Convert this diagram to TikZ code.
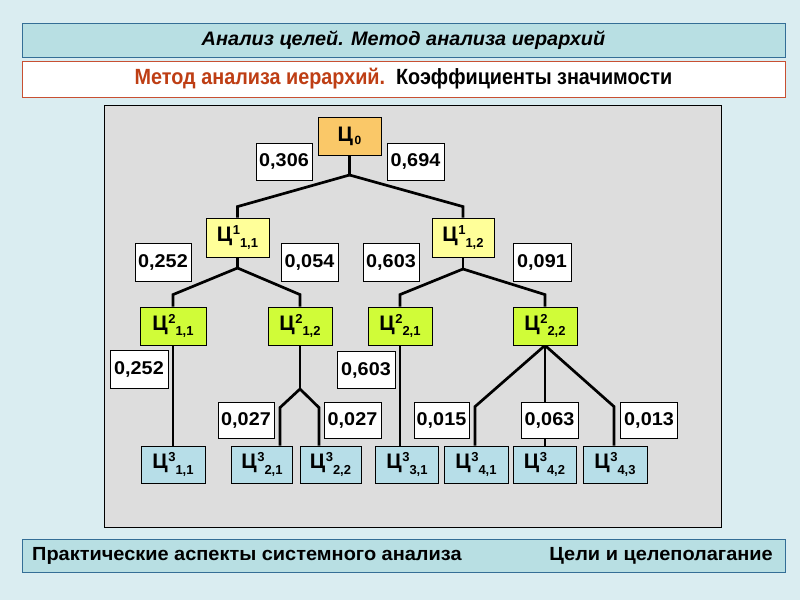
\documentclass[tikz,border=0pt]{standalone}
\usepackage{fontspec}
\setmainfont{Liberation Sans}
\newfontfamily\titlefont{Liberation Sans}[FakeStretch=1.02]
\newfontfamily\subfont{Liberation Sans}[FakeStretch=0.9]
\newfontfamily\footfont{Liberation Sans}[FakeStretch=1.05]
\newfontfamily\lblfont{Liberation Sans}[FakeStretch=1.07]
\definecolor{bgc}{RGB}{218,237,241}
\definecolor{barc}{RGB}{184,223,227}
\definecolor{barline}{RGB}{52,110,150}
\definecolor{redline}{RGB}{200,80,50}
\definecolor{redtxt}{RGB}{190,62,20}
\definecolor{panelc}{RGB}{221,221,221}
\definecolor{c0c}{RGB}{250,200,104}
\definecolor{c1c}{RGB}{255,255,153}
\definecolor{c2c}{RGB}{208,252,56}
\definecolor{c3c}{RGB}{183,222,232}
\newcommand\Cij[2]{Ц\kern0.5pt\raisebox{0.34em}{\fontsize{13}{13}\selectfont #1}\raisebox{-0.26em}{\fontsize{13}{13}\selectfont #2}}
\pgfdeclarelayer{back}
\pgfdeclarelayer{lines}
\pgfsetlayers{back,lines,main}
\tikzset{
  bar/.style={draw=barline, fill=barc, line width=0.8pt, minimum width=763pt, inner sep=0pt},
  lbl/.style={draw, fill=white, line width=0.8pt, inner sep=0pt, minimum height=37pt, font=\lblfont\bfseries\fontsize{18.5}{18.5}\selectfont},
  cbox/.style={draw, line width=0.8pt, inner sep=0pt, minimum height=38pt, font=\bfseries\fontsize{21}{21}\selectfont},
  conn/.style={line width=2.7pt, line join=miter},
}
\begin{document}
\begin{tikzpicture}[x=1pt,y=-1pt]
\begin{pgfonlayer}{back}
\fill[bgc] (0,0) rectangle (800,600);
\node[bar, minimum height=34pt, font=\titlefont\bfseries\itshape\fontsize{19.5}{19.5}\selectfont] (title) at (403.5,40) {Анализ целей. Метод анализа иерархий};
\node[bar, draw=redline, fill=white, minimum height=36pt, font=\subfont\bfseries\fontsize{22}{22}\selectfont] (sub) at (403.5,79) {\textcolor{redtxt}{Метод анализа иерархий.}\ \ Коэффициенты\ значимости};
\node[draw, fill=panelc, line width=0.8pt, minimum width=617pt, minimum height=422pt, inner sep=0pt] (panel) at (412.5,316) {};
\node[bar, minimum height=33pt] (foot) at (403.5,555.5) {};
\node[anchor=west, inner sep=0pt, font=\footfont\bfseries\fontsize{19}{19}\selectfont] (footl) at (32,556) {Практические\ аспекты\ системного\ анализа};
\node[anchor=east, inner sep=0pt, font=\footfont\bfseries\fontsize{19}{19}\selectfont] (footr) at (773,556) {Цели и целеполагание};
\end{pgfonlayer}
\useasboundingbox (0,0) rectangle (800,600);
% level 0
\node[cbox, fill=c0c, minimum width=63pt] (c0) at (349.5,136) {Ц\kern1.5pt\raisebox{-0.15em}{\fontsize{12}{12}\selectfont 0}};
\node[lbl, minimum width=56pt] (l0306) at (284,161.5) {0,306};
\node[lbl, minimum width=57pt] (l0694) at (415.5,161.5) {0,694};
% level 1
\node[cbox, fill=c1c, minimum width=63pt, minimum height=39pt] (c11) at (237.5,237.5) {\Cij{1}{1,1}};
\node[cbox, fill=c1c, minimum width=62pt, minimum height=39pt] (c12) at (463,237.5) {\Cij{1}{1,2}};
\node[lbl, minimum width=56pt, minimum height=38pt] (l0252a) at (163,262) {0,252};
\node[lbl, minimum width=57pt, minimum height=38pt] (l0054) at (309.5,262) {0,054};
\node[lbl, minimum width=56pt, minimum height=38pt] (l0603a) at (391,262) {0,603};
\node[lbl, minimum width=58pt, minimum height=38pt] (l0091) at (542,262) {0,091};
% level 2
\node[cbox, fill=c2c, minimum width=66pt] (c211) at (173,326) {\Cij{2}{1,1}};
\node[cbox, fill=c2c, minimum width=64pt] (c212) at (300,326) {\Cij{2}{1,2}};
\node[cbox, fill=c2c, minimum width=64pt] (c221) at (400,326) {\Cij{2}{2,1}};
\node[cbox, fill=c2c, minimum width=64pt] (c222) at (545,326) {\Cij{2}{2,2}};
\node[lbl, minimum width=58pt, minimum height=38pt] (l0252b) at (139,369) {0,252};
\node[lbl, minimum width=58pt] (l0603b) at (366,370) {0,603};
% level 3 labels
\node[lbl, minimum width=56pt, minimum height=36pt] (l0027a) at (246,420) {0,027};
\node[lbl, minimum width=57pt, minimum height=36pt] (l0027b) at (352.5,420) {0,027};
\node[lbl, minimum width=55pt, minimum height=36pt] (l0015) at (441.5,420) {0,015};
\node[lbl, minimum width=57pt, minimum height=36pt] (l0063) at (549.5,420) {0,063};
\node[lbl, minimum width=57pt, minimum height=36pt] (l0013) at (649,420) {0,013};
% level 3
\node[cbox, fill=c3c, minimum width=64pt, minimum height=37pt] (c311) at (173,464.5) {\Cij{3}{1,1}};
\node[cbox, fill=c3c, minimum width=61pt, minimum height=37pt] (c321) at (262,464.5) {\Cij{3}{2,1}};
\node[cbox, fill=c3c, minimum width=61pt, minimum height=37pt] (c322) at (330.5,464.5) {\Cij{3}{2,2}};
\node[cbox, fill=c3c, minimum width=63pt, minimum height=37pt] (c331) at (407,464.5) {\Cij{3}{3,1}};
\node[cbox, fill=c3c, minimum width=64pt, minimum height=37pt] (c341) at (476,464.5) {\Cij{3}{4,1}};
\node[cbox, fill=c3c, minimum width=63pt, minimum height=37pt] (c342) at (544.5,464.5) {\Cij{3}{4,2}};
\node[cbox, fill=c3c, minimum width=64pt, minimum height=37pt] (c343) at (615,464.5) {\Cij{3}{4,3}};
% connectors
\coordinate (j0) at (349.5,175);
\coordinate (j11) at (237.5,268);
\coordinate (j12) at (463,269);
\coordinate (j212) at (300,389);
\begin{pgfonlayer}{lines}
\draw[conn] (c0.south) -- (j0);
\draw[conn] (j0) -- ([yshift=11pt]c11.north) -- (c11.north);
\draw[conn] (j0) -- ([yshift=11pt]c12.north) -- (c12.north);
\draw[conn] (c11.south) -- (j11);
\draw[conn] (j11) -- ([yshift=12pt]c211.north) -- (c211.north);
\draw[conn] (j11) -- ([yshift=12pt]c212.north) -- (c212.north);
\draw[conn] (c12.south) -- (j12);
\draw[conn] (j12) -- ([yshift=12pt]c221.north) -- (c221.north);
\draw[conn] (j12) -- ([yshift=12pt]c222.north) -- (c222.north);
\draw[conn] (c211.south) -- (c311.north);
\draw[conn] (c212.south) -- (j212);
\draw[conn] (j212) -- ([xshift=18pt,yshift=38pt]c321.north) -- ([xshift=18pt]c321.north);
\draw[conn] (j212) -- ([xshift=-11.5pt,yshift=38pt]c322.north) -- ([xshift=-11.5pt]c322.north);
\draw[conn] (c221.south) -- (c221.south |- c331.north);
\draw[conn] (c222.south) -- ([xshift=-1pt,yshift=39pt]c341.north) -- ([xshift=-1pt]c341.north);
\draw[conn] (c222.south) -- (c222.south |- c342.north);
\draw[conn] (c222.south) -- ([xshift=-1pt,yshift=39pt]c343.north) -- ([xshift=-1pt]c343.north);
\end{pgfonlayer}
\end{tikzpicture}
\end{document}
